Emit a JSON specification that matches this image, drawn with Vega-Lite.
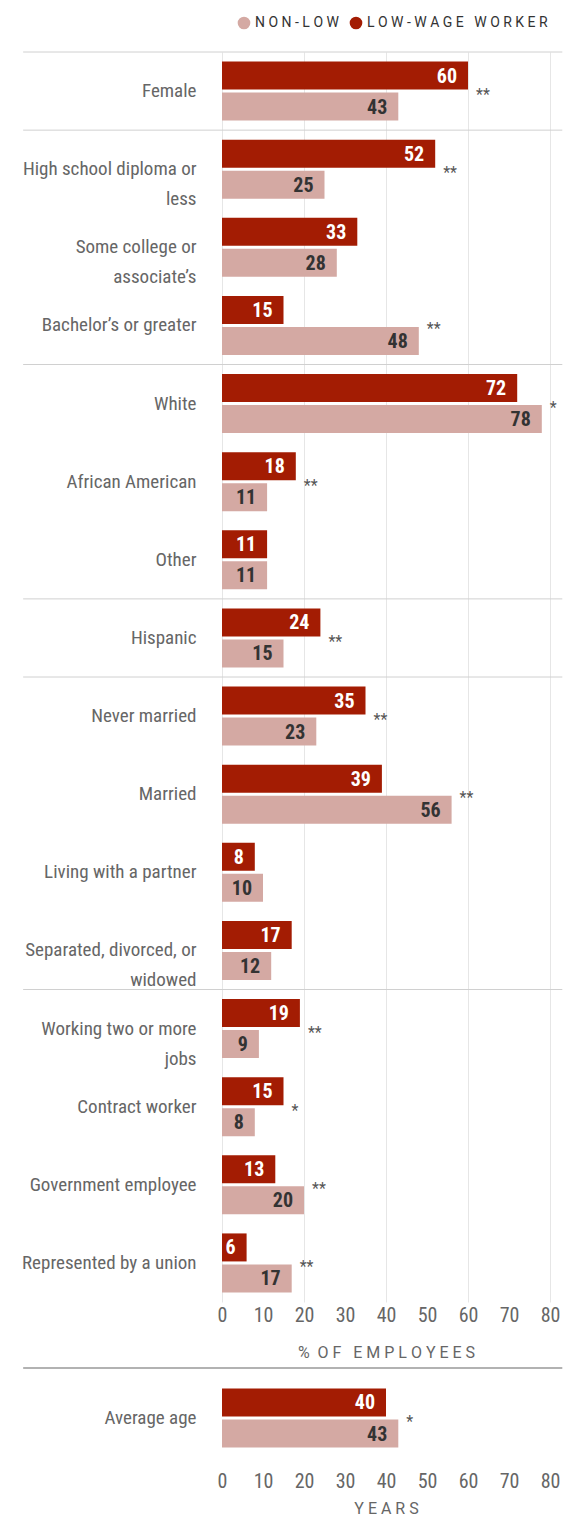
{
  "$schema": "https://vega.github.io/schema/vega-lite/v6.json",
  "padding": {"left": 21, "top": 1, "right": 0, "bottom": 0},
  "background": "white",
  "spacing": 7,
  "config": {
    "font": "Roboto",
    "view": {"stroke": null},
    "axisX": {
      "titleFontSize": 16,
      "titleFontWeight": "normal",
      "titleColor": "#666666",
      "titleFont": "Roboto",
      "titlePadding": 19,
      "labelFontSize": 20,
      "labelColor": "#666666",
      "labelFont": "Roboto Condensed, Liberation Sans Narrow, Roboto",
      "labelPadding": 3,
      "labelFlush": false,
      "ticks": false,
      "domain": false
    },
    "axisY": {
      "ticks": false,
      "domain": false,
      "labelPadding": 26,
      "labelFontSize": 19,
      "labelColor": "#666666",
      "labelFont": "Roboto Condensed, Liberation Sans Narrow, Roboto",
      "labelLimit": 300
    }
  },
  "datasets": {
    "main": [
      {"cat": "Female", "group": "LOW-WAGE WORKER", "value": 60, "star": "**"},
      {"cat": "Female", "group": "NON-LOW", "value": 43, "star": "**"},
      {"cat": "High school diploma or less", "group": "LOW-WAGE WORKER", "value": 52, "star": "**"},
      {"cat": "High school diploma or less", "group": "NON-LOW", "value": 25, "star": "**"},
      {"cat": "Some college or associate’s", "group": "LOW-WAGE WORKER", "value": 33, "star": ""},
      {"cat": "Some college or associate’s", "group": "NON-LOW", "value": 28, "star": ""},
      {"cat": "Bachelor’s or greater", "group": "LOW-WAGE WORKER", "value": 15, "star": "**"},
      {"cat": "Bachelor’s or greater", "group": "NON-LOW", "value": 48, "star": "**"},
      {"cat": "White", "group": "LOW-WAGE WORKER", "value": 72, "star": "*"},
      {"cat": "White", "group": "NON-LOW", "value": 78, "star": "*"},
      {"cat": "African American", "group": "LOW-WAGE WORKER", "value": 18, "star": "**"},
      {"cat": "African American", "group": "NON-LOW", "value": 11, "star": "**"},
      {"cat": "Other", "group": "LOW-WAGE WORKER", "value": 11, "star": ""},
      {"cat": "Other", "group": "NON-LOW", "value": 11, "star": ""},
      {"cat": "Hispanic", "group": "LOW-WAGE WORKER", "value": 24, "star": "**"},
      {"cat": "Hispanic", "group": "NON-LOW", "value": 15, "star": "**"},
      {"cat": "Never married", "group": "LOW-WAGE WORKER", "value": 35, "star": "**"},
      {"cat": "Never married", "group": "NON-LOW", "value": 23, "star": "**"},
      {"cat": "Married", "group": "LOW-WAGE WORKER", "value": 39, "star": "**"},
      {"cat": "Married", "group": "NON-LOW", "value": 56, "star": "**"},
      {"cat": "Living with a partner", "group": "LOW-WAGE WORKER", "value": 8, "star": ""},
      {"cat": "Living with a partner", "group": "NON-LOW", "value": 10, "star": ""},
      {"cat": "Separated, divorced, or widowed", "group": "LOW-WAGE WORKER", "value": 17, "star": ""},
      {"cat": "Separated, divorced, or widowed", "group": "NON-LOW", "value": 12, "star": ""},
      {"cat": "Working two or more jobs", "group": "LOW-WAGE WORKER", "value": 19, "star": "**"},
      {"cat": "Working two or more jobs", "group": "NON-LOW", "value": 9, "star": "**"},
      {"cat": "Contract worker", "group": "LOW-WAGE WORKER", "value": 15, "star": "*"},
      {"cat": "Contract worker", "group": "NON-LOW", "value": 8, "star": "*"},
      {"cat": "Government employee", "group": "LOW-WAGE WORKER", "value": 13, "star": "**"},
      {"cat": "Government employee", "group": "NON-LOW", "value": 20, "star": "**"},
      {"cat": "Represented by a union", "group": "LOW-WAGE WORKER", "value": 6, "star": "**"},
      {"cat": "Represented by a union", "group": "NON-LOW", "value": 17, "star": "**"}
    ],
    "seps": [
      {"cat": "Female"},
      {"cat": "High school diploma or less"},
      {"cat": "White"},
      {"cat": "Hispanic"},
      {"cat": "Never married"},
      {"cat": "Working two or more jobs"}
    ],
    "age": [
      {"cat": "Average age", "group": "LOW-WAGE WORKER", "value": 40, "star": "*"},
      {"cat": "Average age", "group": "NON-LOW", "value": 43, "star": "*"}
    ],
    "agesep": [
      {"cat": "Average age"}
    ]
  },
  "resolve": {
    "scale": {"x": "independent", "y": "independent", "yOffset": "independent"},
    "axis": {"x": "independent", "y": "independent"},
    "legend": {"color": "independent"}
  },
  "vconcat": [
    {
      "width": 328,
      "height": 1250,
      "encoding": {
        "y": {
          "field": "cat",
          "type": "nominal",
          "scale": {
            "domain": ["Female", "High school diploma or less", "Some college or associate’s", "Bachelor’s or greater", "White", "African American", "Other", "Hispanic", "Never married", "Married", "Living with a partner", "Separated, divorced, or widowed", "Working two or more jobs", "Contract worker", "Government employee", "Represented by a union"],
            "paddingInner": 0,
            "paddingOuter": 0
          },
          "axis": {
            "title": null,
            "labelLineHeight": 30,
            "labelExpr": "datum.value == 'High school diploma or less' ? ['High school diploma or', 'less'] : datum.value == 'Some college or associate’s' ? ['Some college or', 'associate’s'] : datum.value == 'Separated, divorced, or widowed' ? ['Separated, divorced, or', 'widowed'] : datum.value == 'Working two or more jobs' ? ['Working two or more', 'jobs'] : datum.label"
          }
        }
      },
      "layer": [
        {
          "data": {"name": "seps"},
          "mark": {"type": "rule", "color": "#d0d0d0", "strokeWidth": 1},
          "encoding": {
            "y": {"field": "cat", "type": "nominal", "bandPosition": 0},
            "x": {"datum": -48.5, "type": "quantitative", "scale": {"domain": [0, 80], "nice": false}, "axis": {"values": [0, 10, 20, 30, 40, 50, 60, 70, 80], "title": "%\u00a0\u00a0O\u00a0F\u00a0\u00a0\u00a0E\u00a0M\u00a0P\u00a0L\u00a0O\u00a0Y\u00a0E\u00a0E\u00a0S", "grid": true, "gridColor": {"condition": {"test": "datum.value % 20 === 0", "value": "#e6e6e6"}, "value": "transparent"}}},
            "x2": {"datum": 83}
          }
        },
        {
          "data": {"name": "main"},
          "mark": {"type": "bar"},
          "encoding": {
            "x": {"field": "value", "type": "quantitative", "scale": {"domain": [0, 80], "nice": false}, "axis": {"values": [0, 10, 20, 30, 40, 50, 60, 70, 80], "title": "%\u00a0\u00a0O\u00a0F\u00a0\u00a0\u00a0E\u00a0M\u00a0P\u00a0L\u00a0O\u00a0Y\u00a0E\u00a0E\u00a0S", "grid": true, "gridColor": {"condition": {"test": "datum.value % 20 === 0", "value": "#e6e6e6"}, "value": "transparent"}}},
            "yOffset": {
              "field": "group",
              "type": "nominal",
              "scale": {"domain": ["LOW-WAGE WORKER", "NON-LOW"], "paddingInner": 0.097, "paddingOuter": 0.308}
            },
            "color": {
              "field": "group",
              "type": "nominal",
              "scale": {"domain": ["NON-LOW", "LOW-WAGE WORKER"], "range": ["#d4a9a3", "#a31c03"]},
              "legend": {
                "title": null,
                "orient": "top",
                "direction": "horizontal",
                "symbolType": "circle",
                "symbolSize": 160,
                "symbolStrokeWidth": 0,
                "labelFontSize": 14,
                "labelColor": "#333333",
                "labelFont": "Roboto",
                "labelLimit": 400,
                "labelExpr": "join(split(datum.label, ''), '\u00a0')",
                "columnPadding": 10,
                "offset": 7,
                "padding": 15
              }
            }
          }
        },
        {
          "data": {"name": "main"},
          "mark": {"type": "text", "align": "right", "baseline": "middle", "dx": -11, "dy": 1, "fontSize": 20, "fontWeight": "bold", "font": "Roboto Condensed, Liberation Sans Narrow, Roboto"},
          "encoding": {
            "x": {"field": "value", "type": "quantitative", "scale": {"domain": [0, 80], "nice": false}, "axis": {"values": [0, 10, 20, 30, 40, 50, 60, 70, 80], "title": "%\u00a0\u00a0O\u00a0F\u00a0\u00a0\u00a0E\u00a0M\u00a0P\u00a0L\u00a0O\u00a0Y\u00a0E\u00a0E\u00a0S", "grid": true, "gridColor": {"condition": {"test": "datum.value % 20 === 0", "value": "#e6e6e6"}, "value": "transparent"}}},
            "yOffset": {"field": "group", "type": "nominal"},
            "text": {"field": "value", "type": "quantitative"},
            "color": {"condition": {"test": "datum.group == 'LOW-WAGE WORKER'", "value": "#ffffff"}, "value": "#333333"}
          }
        },
        {
          "data": {"name": "main"},
          "transform": [
            {"joinaggregate": [{"op": "max", "field": "value", "as": "mx"}], "groupby": ["cat"]},
            {"filter": "datum.star != '' && datum.value == datum.mx"}
          ],
          "mark": {"type": "text", "align": "left", "baseline": "middle", "dx": 8, "dy": 4, "fontSize": 16, "color": "#555555"},
          "encoding": {
            "x": {"field": "value", "type": "quantitative", "scale": {"domain": [0, 80], "nice": false}, "axis": {"values": [0, 10, 20, 30, 40, 50, 60, 70, 80], "title": "%\u00a0\u00a0O\u00a0F\u00a0\u00a0\u00a0E\u00a0M\u00a0P\u00a0L\u00a0O\u00a0Y\u00a0E\u00a0E\u00a0S", "grid": true, "gridColor": {"condition": {"test": "datum.value % 20 === 0", "value": "#e6e6e6"}, "value": "transparent"}}},
            "text": {"field": "star", "type": "nominal"}
          }
        }
      ]
    },
    {
      "width": 328,
      "height": 100,
      "encoding": {
        "y": {
          "field": "cat",
          "type": "nominal",
          "scale": {"domain": ["Average age"], "paddingInner": 0, "paddingOuter": 0},
          "axis": {"title": null}
        }
      },
      "layer": [
        {
          "data": {"name": "agesep"},
          "mark": {"type": "rule", "color": "#999999", "strokeWidth": 1.5},
          "encoding": {
            "y": {"field": "cat", "type": "nominal", "bandPosition": 0},
            "x": {"datum": -48.5, "type": "quantitative", "scale": {"domain": [0, 80], "nice": false}, "axis": {"values": [0, 10, 20, 30, 40, 50, 60, 70, 80], "title": "Y\u00a0E\u00a0A\u00a0R\u00a0S", "titlePadding": 9, "grid": false}},
            "x2": {"datum": 83}
          }
        },
        {
          "data": {"name": "age"},
          "mark": {"type": "bar"},
          "encoding": {
            "x": {"field": "value", "type": "quantitative", "scale": {"domain": [0, 80], "nice": false}, "axis": {"values": [0, 10, 20, 30, 40, 50, 60, 70, 80], "title": "Y\u00a0E\u00a0A\u00a0R\u00a0S", "titlePadding": 9, "grid": false}},
            "yOffset": {
              "field": "group",
              "type": "nominal",
              "scale": {"domain": ["LOW-WAGE WORKER", "NON-LOW"], "paddingInner": 0.097, "paddingOuter": 0.66}
            },
            "color": {
              "field": "group",
              "type": "nominal",
              "scale": {"domain": ["NON-LOW", "LOW-WAGE WORKER"], "range": ["#d4a9a3", "#a31c03"]},
              "legend": null
            }
          }
        },
        {
          "data": {"name": "age"},
          "mark": {"type": "text", "align": "right", "baseline": "middle", "dx": -11, "dy": 1, "fontSize": 20, "fontWeight": "bold", "font": "Roboto Condensed, Liberation Sans Narrow, Roboto"},
          "encoding": {
            "x": {"field": "value", "type": "quantitative", "scale": {"domain": [0, 80], "nice": false}, "axis": {"values": [0, 10, 20, 30, 40, 50, 60, 70, 80], "title": "Y\u00a0E\u00a0A\u00a0R\u00a0S", "titlePadding": 9, "grid": false}},
            "yOffset": {"field": "group", "type": "nominal"},
            "text": {"field": "value", "type": "quantitative"},
            "color": {"condition": {"test": "datum.group == 'LOW-WAGE WORKER'", "value": "#ffffff"}, "value": "#333333"}
          }
        },
        {
          "data": {"name": "age"},
          "transform": [
            {"joinaggregate": [{"op": "max", "field": "value", "as": "mx"}], "groupby": ["cat"]},
            {"filter": "datum.star != '' && datum.value == datum.mx"}
          ],
          "mark": {"type": "text", "align": "left", "baseline": "middle", "dx": 8, "dy": 4, "fontSize": 16, "color": "#555555"},
          "encoding": {
            "x": {"field": "value", "type": "quantitative", "scale": {"domain": [0, 80], "nice": false}, "axis": {"values": [0, 10, 20, 30, 40, 50, 60, 70, 80], "title": "Y\u00a0E\u00a0A\u00a0R\u00a0S", "titlePadding": 9, "grid": false}},
            "text": {"field": "star", "type": "nominal"}
          }
        }
      ]
    }
  ]
}
